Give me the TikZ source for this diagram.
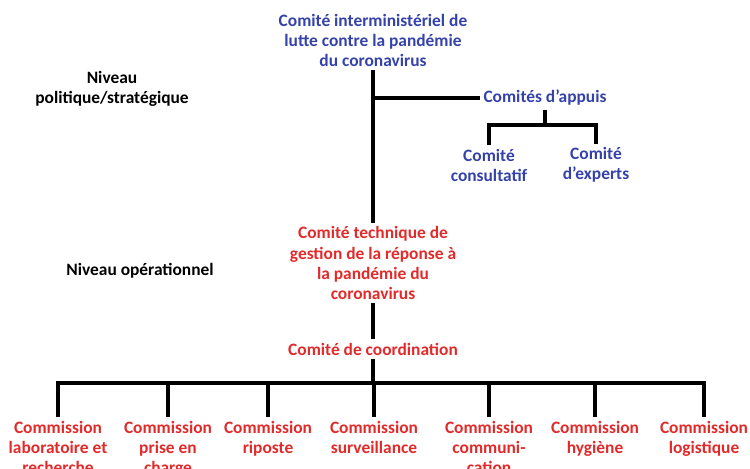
\documentclass[tikz,border=0pt]{standalone}
\usepackage{fontspec}
\setmainfont{Carlito}
\definecolor{bleu}{RGB}{52,66,170}
\definecolor{rouge}{RGB}{226,42,42}

\begin{document}
\begin{tikzpicture}
		[x=0.02cm,y=-0.02cm,
		 txt/.style={font=\fontsize{9.9}{11.4}\selectfont\bfseries,align=center,inner sep=2pt},
		 pol/.style={txt,text=bleu},
		 opr/.style={txt,text=rouge},
		 lien/.style={line width=2.4pt}]
		\useasboundingbox (0,0) rectangle (750,469);

		\node[txt] (niv1) at (112,89) {Niveau\\politique/stratégique};
		\node[txt] (niv2) at (140,271) {Niveau opérationnel};

		\node[pol] (cim) at (373,40) {Comité interministériel de\\lutte contre la pandémie\\du coronavirus};
		\node[pol] (appuis) at (545,98) {Comités d’appuis};
		\node[pol] (consult) at (489,165) {Comité\\consultatif};
		\node[pol] (experts) at (596,165) {Comité\\d’experts};

		\node[opr] (tech) at (373,263) {Comité technique de\\gestion de la réponse à\\la pandémie du\\coronavirus};
		\node[opr] (coord) at (373,349) {Comité de coordination};

		\node[opr,anchor=north] (c1) at (58,417) {Commission\\laboratoire et\\recherche};
		\node[opr,anchor=north] (c2) at (168,417) {Commission\\prise en\\charge};
		\node[opr,anchor=north] (c3) at (268,417) {Commission\\riposte};
		\node[opr,anchor=north] (c4) at (374,417) {Commission\\surveillance};
		\node[opr,anchor=north] (c5) at (489,417) {Commission\\communi-\\cation};
		\node[opr,anchor=north] (c6) at (595,417) {Commission\\hygiène};
		\node[opr,anchor=north] (c7) at (704,417) {Commission\\logistique};

		\coordinate (fork) at (545,125);
		\coordinate (bus) at (373,383);

		\draw[lien] (cim) -- (tech);
		\draw[lien] (cim |- appuis) -- (appuis);
		\draw[lien] (appuis) -- (fork);
		\draw[lien] (consult) |- (fork) -| (experts);
		\draw[lien] (tech) -- (coord);
		\draw[lien] (coord) -- (bus);
		\draw[lien] (c1) |- (bus) -| (c7);
		\draw[lien] (c2) -- (c2 |- bus);
		\draw[lien] (c3) -- (c3 |- bus);
		\draw[lien] (c4) -- (c4 |- bus);
		\draw[lien] (c5) -- (c5 |- bus);
		\draw[lien] (c6) -- (c6 |- bus);

	\end{tikzpicture}
\end{document}
